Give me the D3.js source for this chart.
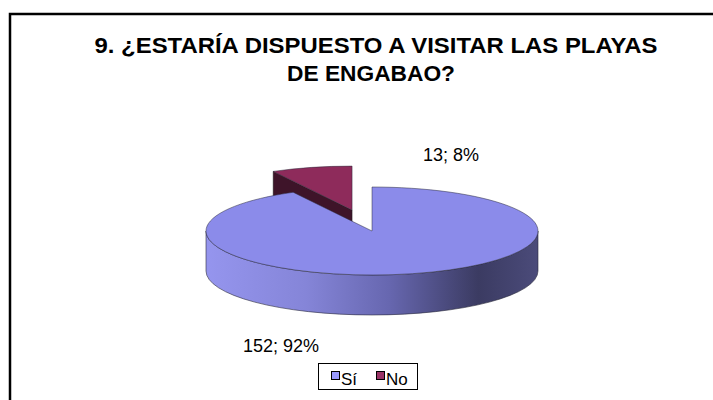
<!DOCTYPE html>
<html lang="es">
<head>
<meta charset="UTF-8">
<title>Playas de Engabao</title>
<style>
    body { margin: 0; background: #fff; }
    svg { display: block; font-family: "Liberation Sans", Arial, sans-serif; }
</style>
</head>
<body>
<script src="https://cdnjs.cloudflare.com/ajax/libs/d3/7.8.5/d3.min.js"></script>
<script>
    const width = 713;
    const height = 400;

    // data
    const categories = ['Sí', 'No'];
    const values = [152, 13];
    const titleLines = ['9. ¿ESTARÍA DISPUESTO A VISITAR LAS PLAYAS', 'DE ENGABAO?'];
    const titleWidths = [563, 168];

    const COLORS = {
        top: ['#8b8bea', '#8e2b5b'],
        side: ['#7a7acc', '#3e1429'],
        legend: ['#9999ff', '#993366']
    };

    const PIE = { cx: 372, cy: 231, rx: 166, ry: 44, depth: 40, explode: [0, 0.49] };

    const svg = d3.select('body').append('svg')
        .attr('width', width)
        .attr('height', height);

    // frame (runs past the right and bottom edges like the original)
    svg.append('rect')
        .attr('x', 10).attr('y', 14)
        .attr('width', 760).attr('height', 420)
        .attr('fill', 'none')
        .attr('stroke', '#000')
        .attr('stroke-width', 2.5);

    // title
    svg.append('g')
        .selectAll('text')
        .data(titleLines)
        .join('text')
        .attr('text-anchor', 'middle')
        .attr('font-size', 22.5)
        .attr('font-weight', 'bold')
        .attr('fill', '#000')
        .attr('x', (d, i) => i === 0 ? 376 : 371)
        .attr('y', (d, i) => 53 + i * 28)
        .attr('textLength', (d, i) => titleWidths[i])
        .attr('lengthAdjust', 'spacingAndGlyphs')
        .text(d => d);

    const total = d3.sum(values);
    const fmtPct = d3.format('.0%');
    const arcs = d3.pie().sort(null)(values).map((a, i) => {
        const mid = (a.startAngle + a.endAngle) / 2;
        const e = PIE.explode[i];
        return Object.assign(a, {
            i,
            ox: e * PIE.rx * Math.sin(mid),
            oy: -e * PIE.ry * Math.cos(mid)
        });
    });

    function pt(a, ang, dz = 0) {
        return [PIE.cx + a.ox + PIE.rx * Math.sin(ang), PIE.cy + a.oy - PIE.ry * Math.cos(ang) + dz];
    }

    function topPath(a) {
        const c = [PIE.cx + a.ox, PIE.cy + a.oy];
        const p0 = pt(a, a.startAngle), p1 = pt(a, a.endAngle);
        const large = a.endAngle - a.startAngle > Math.PI ? 1 : 0;
        return `M${c}L${p0}A${PIE.rx},${PIE.ry} 0 ${large} 1 ${p1}Z`;
    }

    function outerSidePath(a) {
        const s = Math.max(a.startAngle, Math.PI / 2);
        const e = Math.min(a.endAngle, 3 * Math.PI / 2);
        if (e <= s) return null;
        const d = PIE.depth;
        return `M${pt(a, s)}A${PIE.rx},${PIE.ry} 0 0 1 ${pt(a, e)}` +
            `L${pt(a, e, d)}A${PIE.rx},${PIE.ry} 0 0 0 ${pt(a, s, d)}Z`;
    }

    function radialFace(a, ang) {
        const d = PIE.depth;
        const c = [PIE.cx + a.ox, PIE.cy + a.oy];
        const cd = [c[0], c[1] + d];
        return `M${c}L${pt(a, ang)}L${pt(a, ang, d)}L${cd}Z`;
    }

    const defs = svg.append('defs');
    const grad = defs.append('linearGradient')
        .attr('id', 'sideGrad')
        .attr('gradientUnits', 'userSpaceOnUse')
        .attr('x1', PIE.cx - PIE.rx).attr('x2', PIE.cx + PIE.rx)
        .attr('y1', 0).attr('y2', 0);
    [[0, '#9595ee'], [0.3, '#8585d8'], [0.55, '#6767b0'], [0.82, '#3b3b62'], [1, '#4b4b7a']]
        .forEach(([o, c]) => grad.append('stop').attr('offset', o).attr('stop-color', c));

    const pieG = svg.append('g');

    // back slice first (No), then front slice (Sí)
    const order = arcs.slice().sort((a, b) => b.i - a.i);
    order.forEach(a => {
        const g = pieG.append('g');
        // radial faces, drawn only when they face the viewer
        if (-Math.sin(a.startAngle) > 0.01) {
            g.append('path').attr('d', radialFace(a, a.startAngle))
                .attr('fill', COLORS.side[a.i]).attr('stroke', '#1a1a1a').attr('stroke-width', 0.5);
        }
        if (Math.sin(a.endAngle) > 0.01) {
            g.append('path').attr('d', radialFace(a, a.endAngle))
                .attr('fill', COLORS.side[a.i]).attr('stroke', '#1a1a1a').attr('stroke-width', 0.5);
        }
        const side = outerSidePath(a);
        if (side) {
            g.append('path').attr('d', side)
                .attr('fill', a.i === 0 ? 'url(#sideGrad)' : COLORS.side[a.i])
                .attr('stroke', '#2a2a3a').attr('stroke-width', 0.6);
        }
        g.append('path').attr('d', topPath(a))
            .attr('fill', COLORS.top[a.i])
            .attr('stroke', '#2a2a3a').attr('stroke-width', 0.5);
    });

    // data labels
    const labelPos = [[243, 352], [423, 161]];
    svg.append('g').selectAll('text')
        .data(arcs)
        .join('text')
        .attr('x', d => labelPos[d.i][0])
        .attr('y', d => labelPos[d.i][1])
        .attr('font-size', 18)
        .attr('fill', '#000')
        .text(d => `${d.data}; ${fmtPct(d.data / total)}`);

    // legend
    const legend = svg.append('g');
    legend.append('rect')
        .attr('x', 318.5).attr('y', 363.5)
        .attr('width', 99).attr('height', 26)
        .attr('fill', '#fff').attr('stroke', '#000').attr('stroke-width', 1);
    const items = legend.selectAll('g.item')
        .data(categories)
        .join('g')
        .attr('class', 'item')
        .attr('transform', (d, i) => `translate(${331 + i * 45},0)`);
    items.append('rect')
        .attr('x', 0.5).attr('y', 371.5)
        .attr('width', 8).attr('height', 8)
        .attr('fill', (d, i) => COLORS.legend[i])
        .attr('stroke', '#000').attr('stroke-width', 1);
    items.append('text')
        .attr('x', 10).attr('y', 385)
        .attr('font-size', 17)
        .attr('fill', '#000')
        .text(d => d);
</script>
</body>
</html>
